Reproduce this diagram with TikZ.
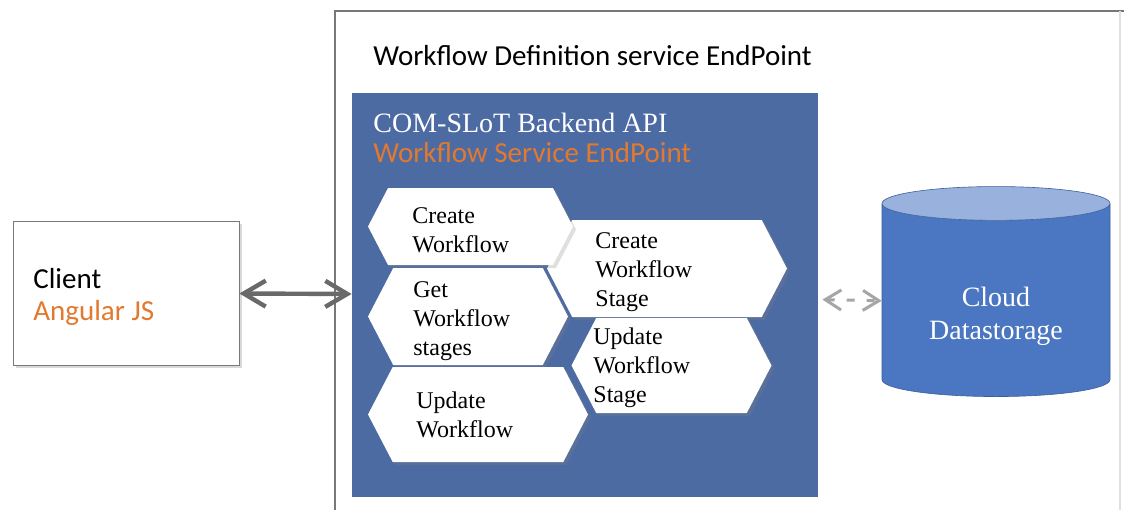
\documentclass[tikz,border=0pt]{standalone}
\usepackage{fontspec}
\setmainfont{Liberation Serif}
\newfontfamily\calibri{Carlito}
\usetikzlibrary{shapes.symbols,shapes.geometric,arrows.meta,shadows,positioning}
\definecolor{apiblue}{RGB}{77,107,163}
\definecolor{dbbody}{RGB}{74,118,194}
\definecolor{dbtop}{RGB}{152,178,221}
\definecolor{slotorange}{RGB}{226,121,46}
\definecolor{linkgray}{RGB}{105,105,105}
\definecolor{framegray}{RGB}{120,120,120}

\begin{document}
\begin{tikzpicture}[
  x=0.5pt, y=-0.5pt,
  every node/.style={font=\fontsize{12}{14.5}\selectfont},
  hexbox/.style={signal, signal to=west and east, signal pointer angle=125, fill=white, inner sep=0pt,
    drop shadow={opacity=0.25, shadow xshift=1.5pt, shadow yshift=-1.5pt}},
  hextext/.style={anchor=north west, align=left, inner sep=0pt},
  sanstext/.style={font=\calibri\fontsize{14.5}{16}\selectfont, inner sep=0pt},
  clientbox/.style={rectangle, draw=framegray, fill=white, minimum width=113pt, minimum height=72pt,
    drop shadow={opacity=0.3, shadow xshift=1.5pt, shadow yshift=-1.5pt}},
  link/.style={{Straight Barb[length=11pt,width=13pt]}-{Straight Barb[length=11pt,width=13pt]}, line width=2.2pt, linkgray},
  dashlink/.style={{Straight Barb[length=8pt,width=10pt]}-{Straight Barb[length=8pt,width=10pt]}, line width=1.5pt, gray!70, dash pattern=on 4pt off 6pt},
  dbtext/.style={text=white, align=center, font=\fontsize{14}{16.5}\selectfont},
]
\useasboundingbox (0,0) rectangle (1124,509);

% outer endpoint frame
\draw[framegray, line width=0.8pt] (335,530) -- (335,11) -- (1124,11);
\draw[gray!25, line width=0.6pt] (1120,11) -- (1120,530);
\node[sanstext, anchor=base west] (wfdef) at (373,65) {Workflow Definition service EndPoint};

% backend api block
\node[rectangle, fill=apiblue, minimum width=233pt, minimum height=202pt] (api) at (585,295) {};
\node[font=\fontsize{14}{16}\selectfont, white, anchor=base west, inner sep=0pt] (apititle) at (373,132) {COM-SLoT Backend API};
\node[sanstext, slotorange, anchor=base west] (apisub) at (373,162) {Workflow Service EndPoint};

% operations
\node[hexbox, minimum width=120pt, minimum height=48.5pt] (cs) at (667,268.5) {};
\node[hexbox, minimum width=100pt, minimum height=47.5pt] (us) at (671.5,365.5) {};
\node[hexbox, minimum width=102.5pt, minimum height=38.5pt] (cw) at (470.5,226.5) {};
\node[hexbox, minimum width=100pt, minimum height=48.5pt] (gw) at (468,316.5) {};
\node[hexbox, minimum width=110pt, minimum height=47.5pt] (uw) at (478,414.5) {};
\node[hextext] (cwT) at (412,207) {Create\\Workflow};
\node[hextext] (gwT) at (413,281) {Get\\Workflow\\stages};
\node[hextext] (uwT) at (416,391) {Update\\Workflow};
\node[hextext] (csT) at (595,232) {Create\\Workflow\\Stage};
\node[hextext] (usT) at (593,327) {Update\\Workflow\\Stage};

% client
\node[clientbox] (client) at (126,293) {};
\node[sanstext, anchor=base west, align=left] (clientT) at (33,320) {Client\\\textcolor{slotorange}{Angular JS}};

% datastore
\node[cylinder, shape border rotate=90, aspect=0.23, minimum width=114pt, minimum height=105pt,
  cylinder uses custom fill, cylinder body fill=dbbody, cylinder end fill=dbtop, draw=dbbody!80!black, line width=0.3pt,
  dbtext] (db) at (996,303) {\phantom{Cloud}\\\phantom{Datastorage}};
\node[dbtext] (dbT) at (996,316) {Cloud\\Datastorage};

% links
\draw[link] (client) -- (api);
\draw[dashlink, shorten <=2pt] (api) -- (db);

\end{tikzpicture}
\end{document}
